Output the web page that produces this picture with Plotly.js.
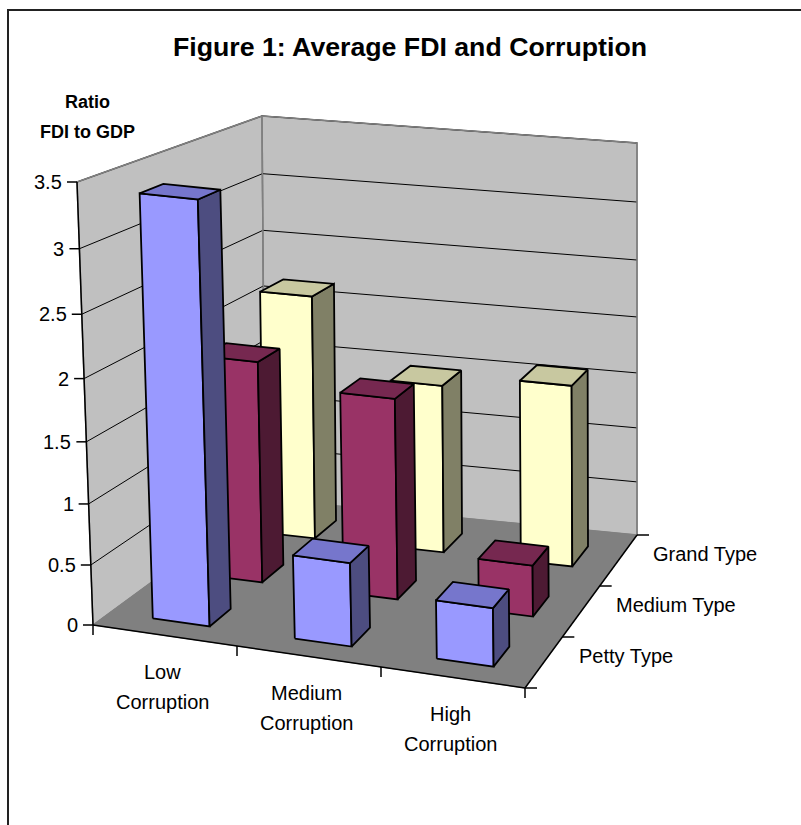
<!DOCTYPE html>
<html>
<head>
<meta charset="utf-8">
<script src="https://cdn.plot.ly/plotly-3.0.1.min.js"></script>
<style>
html,body{margin:0;padding:0;background:#fff;}
#chart{width:801px;height:825px;}
</style>
</head>
<body>
<div id="chart"></div>
<script>
// ---------------- data ----------------
var categoryLines = [["Low", "Corruption"], ["Medium", "Corruption"], ["High", "Corruption"]];
var seriesNames = ["Petty Type", "Medium Type", "Grand Type"];
var pettyValues = [3.40, 0.69, 0.48];
var mediumValues = [1.89, 1.71, 0.44];
var grandValues = [2.17, 1.50, 1.61];
var valueTicks = [0, 0.5, 1, 1.5, 2, 2.5, 3, 3.5];
var valueTickLabels = ["0", "0.5", "1", "1.5", "2", "2.5", "3", "3.5"];
var valueMax = 3.5;

// ---------------- style / view ----------------
var seriesValues = [pettyValues, mediumValues, grandValues];
var frontColors = ["#9999FF", "#993366", "#FFFFCC"];
var topColors = ["#7676CC", "#762850", "#C8C8A0"];
var sideColors = ["#4D4D80", "#4D1A33", "#808066"];
var FONT = "Liberation Sans, Arial, Helvetica, sans-serif";

// 3-D view: floor corners and the height vector (for the full value range) at each corner
var view = {
  FL: {x: 93, y: 625, hx: -16, hy: -443},
  FR: {x: 525, y: 688, hx: -4, hy: -458},
  BR: {x: 637, y: 535, hx: 0, hy: -392},
  BL: {x: 265, y: 499, hx: -3, hy: -383},
  k: -0.06
};
var HW = 0.2, HD = 0.2; // half width / half depth of a bar, in category / series units
var nCat = categoryLines.length, nSer = seriesNames.length;

// u: 0..1 along categories, w: 0..1 along series (depth), t: 0..1 of value range
function proj(u, w, t) {
  var a = (1 - u) * (1 - w), b = u * (1 - w), c = u * w, d = (1 - u) * w;
  var V = view;
  var x = a * V.FL.x + b * V.FR.x + c * V.BR.x + d * V.BL.x;
  var y = a * V.FL.y + b * V.FR.y + c * V.BR.y + d * V.BL.y;
  var g = t * (1 + V.k) / (1 + V.k * t);
  x += g * (a * V.FL.hx + b * V.FR.hx + c * V.BR.hx + d * V.BL.hx);
  y += g * (a * V.FL.hy + b * V.FR.hy + c * V.BR.hy + d * V.BL.hy);
  return [x, y];
}

var traces = [];
function poly(pts, fill, lineColor, lineWidth) {
  var xs = pts.map(function (p) { return p[0]; });
  var ys = pts.map(function (p) { return p[1]; });
  xs.push(pts[0][0]); ys.push(pts[0][1]);
  traces.push({type: 'scatter', mode: 'lines', x: xs, y: ys, fill: 'toself', fillcolor: fill,
    line: {color: lineColor, width: lineWidth}, hoverinfo: 'skip', showlegend: false});
}
function lines(segs, color, width) {
  var xs = [], ys = [];
  segs.forEach(function (s) {
    s.forEach(function (p) { xs.push(p[0]); ys.push(p[1]); });
    xs.push(null); ys.push(null);
  });
  traces.push({type: 'scatter', mode: 'lines', x: xs, y: ys, connectgaps: false,
    line: {color: color, width: width}, hoverinfo: 'skip', showlegend: false});
}

// walls and floor
poly([proj(0, 0, 0), proj(0, 1, 0), proj(0, 1, 1), proj(0, 0, 1)], '#C0C0C0', '#808080', 1.5);
poly([proj(0, 1, 0), proj(1, 1, 0), proj(1, 1, 1), proj(0, 1, 1)], '#C0C0C0', '#808080', 1.5);
poly([proj(0, 0, 0), proj(1, 0, 0), proj(1, 1, 0), proj(0, 1, 0)], '#808080', '#808080', 1);

// gridlines
var grid = [];
valueTicks.forEach(function (v) {
  if (v === 0) return;
  var t = v / valueMax;
  grid.push([proj(0, 0, t), proj(0, 1, t), proj(1, 1, t)]);
});
lines(grid, '#000000', 1);
// wall outer edges (grey)
lines([[proj(0, 0, 1), proj(0, 1, 1), proj(1, 1, 1), proj(1, 1, 0)], [proj(0, 1, 0), proj(0, 1, 1)]], '#808080', 1.5);

// axes lines and tick marks
var axisSegs = [
  [proj(0, 0, 0), proj(0, 0, 1)],
  [proj(0, 0, 0), proj(1, 0, 0)],
  [proj(1, 0, 0), proj(1, 1, 0)]
];
valueTicks.forEach(function (v) {
  var p = proj(0, 0, v / valueMax);
  axisSegs.push([[p[0] - 10, p[1]], p]);
});
for (var i = 0; i <= nCat; i++) {
  var p = proj(i / nCat, 0, 0);
  axisSegs.push([p, [p[0], p[1] + 10]]);
}
for (var j = 0; j <= nSer; j++) {
  var p2 = proj(1, j / nSer, 0);
  axisSegs.push([p2, [p2[0] + 12, p2[1]]]);
}
lines(axisSegs, '#000000', 1.5);

// bars: back row first, left to right
for (var s = nSer - 1; s >= 0; s--) {
  seriesValues[s].forEach(function (v, c) {
    var u0 = (c + 0.5 - HW) / nCat, u1 = (c + 0.5 + HW) / nCat;
    var w0 = (s + 0.5 - HD) / nSer, w1 = (s + 0.5 + HD) / nSer;
    var t = v / valueMax;
    poly([proj(u0, w0, 0), proj(u1, w0, 0), proj(u1, w0, t), proj(u0, w0, t)], frontColors[s], '#000', 1.8);
    poly([proj(u1, w0, 0), proj(u1, w1, 0), proj(u1, w1, t), proj(u1, w0, t)], sideColors[s], '#000', 1.8);
    poly([proj(u0, w0, t), proj(u1, w0, t), proj(u1, w1, t), proj(u0, w1, t)], topColors[s], '#000', 1.8);
  });
}

// text
var annos = [];
var txtFont = {family: FONT, size: 20, color: '#000'};
categoryLines.forEach(function (ls, c) {
  var p = proj((c + 0.5) / nCat, 0, 0);
  ls.forEach(function (line, li) {
    annos.push({xref: 'x', yref: 'y', x: p[0] - 3, y: p[1], text: line, showarrow: false,
      xanchor: 'center', yanchor: 'middle', yshift: -(36 + 30 * li), font: txtFont});
  });
});
seriesNames.forEach(function (n, s) {
  var p = proj(1, (s + 0.5) / nSer, 0);
  annos.push({xref: 'x', yref: 'y', x: p[0], y: p[1], text: n, showarrow: false,
    xanchor: 'left', yanchor: 'middle', xshift: 33, yshift: 7, font: txtFont});
});
valueTicks.forEach(function (v, i) {
  var p = proj(0, 0, v / valueMax);
  annos.push({xref: 'x', yref: 'y', x: p[0], y: p[1], text: valueTickLabels[i], showarrow: false,
    xanchor: 'right', yanchor: 'middle', xshift: -13, font: txtFont});
});
annos.push({xref: 'paper', yref: 'paper', x: 87 / 801, y: 1 - 102 / 825, text: '<b>Ratio</b>', showarrow: false,
  xanchor: 'center', yanchor: 'middle', font: {family: FONT, size: 18, color: '#000'}});
annos.push({xref: 'paper', yref: 'paper', x: 87 / 801, y: 1 - 132 / 825, text: '<b>FDI to GDP</b>', showarrow: false,
  xanchor: 'center', yanchor: 'middle', font: {family: FONT, size: 18, color: '#000'}});

var layout = {
  width: 801, height: 825,
  margin: {l: 0, r: 0, t: 0, b: 0},
  paper_bgcolor: '#ffffff', plot_bgcolor: '#ffffff',
  showlegend: false,
  title: {text: '<b>Figure 1: Average FDI and Corruption</b>', x: 410 / 801, xanchor: 'center', y: 1 - 47 / 825, yanchor: 'middle',
    font: {family: FONT, size: 26.7, color: '#000'}},
  xaxis: {range: [0, 801], visible: false, fixedrange: true},
  yaxis: {range: [825, 0], visible: false, fixedrange: true},
  annotations: annos,
  shapes: [{type: 'rect', xref: 'paper', yref: 'paper', x0: 8 / 801, x1: 1.05, y0: -0.05, y1: 1 - 10 / 825,
    line: {color: '#222', width: 2}}]
};

Plotly.newPlot('chart', traces, layout, {displayModeBar: false, staticPlot: true});
</script>
</body>
</html>
